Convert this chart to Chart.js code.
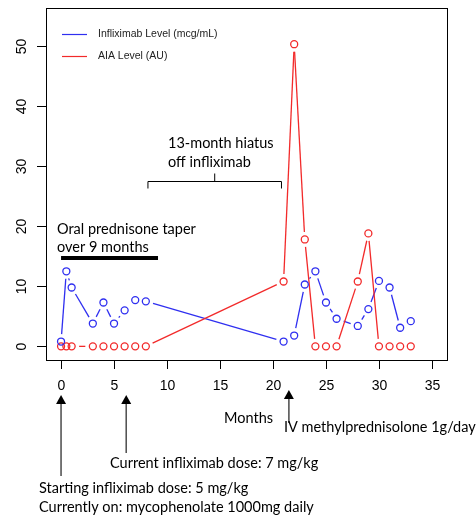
<!DOCTYPE html>
<html>
<head>
<meta charset="utf-8">
<script src="https://cdn.jsdelivr.net/npm/chart.js@4.4.1/dist/chart.umd.min.js"></script>
<style>
  html, body { margin: 0; padding: 0; background: #fff; }
  canvas { display: block; }
</style>
</head>
<body>
<canvas id="levelsChart" width="476" height="515"></canvas>
<script>
// sampling months and measured levels
const months = [0, 0.5, 1, 3, 4, 5, 6, 7, 8, 21, 22, 23, 24, 25, 26, 28, 29, 30, 31, 32, 33];
const infliximabLevel = [0.8, 12.5, 9.8, 3.8, 7.3, 3.8, 6.0, 7.7, 7.5, 0.8, 1.8, 10.3, 12.5, 7.3, 4.6, 3.4, 6.2, 10.9, 9.8, 3.1, 4.2];
const aiaLevel = [0, 0, 0, 0, 0, 0, 0, 0, 0, 10.8, 50.3, 17.8, 0, 0, 0, 10.8, 18.8, 0, 0, 0, 0];

const xTicks = [0, 5, 10, 15, 20, 25, 30, 35];
const yTicks = [0, 10, 20, 30, 40, 50];

const BLUE = '#2f2ff0';
const RED = '#f22a2a';
const NOTE_FONT = 'Lato, "Open Sans", sans-serif';
const AXIS_FONT = '"Liberation Sans", Arial, sans-serif';

function toPoints(ys) {
    return months.map((m, i) => ({x: m, y: ys[i]}));
}

// lines between points with a gap round each circle (like type="b")
const gappedLines = {
    id: 'gappedLines',
    beforeDatasetsDraw(chart) {
        const ctx = chart.ctx;
        const gap = 7.5;
        ctx.save();
        ctx.beginPath();
        ctx.rect(chart.chartArea.left, chart.chartArea.top,
            chart.chartArea.right - chart.chartArea.left, chart.chartArea.bottom - chart.chartArea.top);
        ctx.clip();
        chart.data.datasets.forEach((ds, di) => {
            const pts = chart.getDatasetMeta(di).data;
            ctx.strokeStyle = ds.borderColor;
            ctx.lineWidth = 1.3;
            for (let i = 0; i < pts.length - 1; i++) {
                const a = pts[i], b = pts[i + 1];
                const dx = b.x - a.x, dy = b.y - a.y;
                const len = Math.sqrt(dx * dx + dy * dy);
                if (len <= gap * 2) continue;
                const ux = dx / len, uy = dy / len;
                ctx.beginPath();
                ctx.moveTo(a.x + ux * gap, a.y + uy * gap);
                ctx.lineTo(b.x - ux * gap, b.y - uy * gap);
                ctx.stroke();
            }
        });
        ctx.restore();
    }
};

function arrowUp(ctx, x, tipY, endY) {
    ctx.strokeStyle = '#555';
    ctx.lineWidth = 1.6;
    ctx.beginPath();
    ctx.moveTo(x, tipY + 8);
    ctx.lineTo(x, endY);
    ctx.stroke();
    ctx.fillStyle = '#000';
    ctx.beginPath();
    ctx.moveTo(x, tipY);
    ctx.lineTo(x - 5, tipY + 9);
    ctx.lineTo(x + 5, tipY + 9);
    ctx.closePath();
    ctx.fill();
}

// frame, axes, legend and notes
const decorations = {
    id: 'decorations',
    afterDraw(chart) {
        const ctx = chart.ctx;
        const area = chart.chartArea;
        const xs = chart.scales.x, ys = chart.scales.y;
        ctx.save();

        ctx.strokeStyle = '#000';
        ctx.lineWidth = 1;
        ctx.strokeRect(Math.round(area.left) + 0.5, Math.round(area.top) + 0.5,
            Math.round(area.right - area.left), Math.round(area.bottom - area.top));

        // x axis
        ctx.fillStyle = '#000';
        ctx.font = '14px ' + AXIS_FONT;
        ctx.textAlign = 'center';
        ctx.textBaseline = 'middle';
        xTicks.forEach(t => {
            const px = Math.round(xs.getPixelForValue(t)) + 0.5;
            ctx.beginPath();
            ctx.moveTo(px, area.bottom);
            ctx.lineTo(px, area.bottom + 9);
            ctx.stroke();
            ctx.fillText(String(t), px, area.bottom + 26);
        });

        // y axis, labels turned as in base graphics
        yTicks.forEach(t => {
            const py = Math.round(ys.getPixelForValue(t)) + 0.5;
            ctx.beginPath();
            ctx.moveTo(area.left, py);
            ctx.lineTo(area.left - 9, py);
            ctx.stroke();
            ctx.save();
            ctx.translate(area.left - 24, py);
            ctx.rotate(-Math.PI / 2);
            ctx.fillText(String(t), 0, 0);
            ctx.restore();
        });

        // legend
        ctx.font = '10.5px ' + AXIS_FONT;
        ctx.textAlign = 'left';
        [['Infliximab Level (mcg/mL)', BLUE, 34], ['AIA Level (AU)', RED, 56]].forEach(([label, color, y]) => {
            ctx.strokeStyle = color;
            ctx.lineWidth = 1.2;
            ctx.beginPath();
            ctx.moveTo(62, y + 0.5);
            ctx.lineTo(87, y + 0.5);
            ctx.stroke();
            ctx.fillStyle = '#222';
            ctx.fillText(label, 98, y);
        });

        // hiatus bracket
        const bl = xs.getPixelForValue(8.2), br = xs.getPixelForValue(20.8), bm = xs.getPixelForValue(14.5);
        const by = 181.5;
        ctx.strokeStyle = '#000';
        ctx.lineWidth = 1;
        ctx.beginPath();
        ctx.moveTo(bl, by + 7);
        ctx.lineTo(bl, by);
        ctx.lineTo(br, by);
        ctx.lineTo(br, by + 7);
        ctx.moveTo(bm, by);
        ctx.lineTo(bm, by - 8);
        ctx.stroke();

        ctx.fillStyle = '#000';
        ctx.font = '14.5px ' + NOTE_FONT;
        ctx.fillText('13-month hiatus', 168, 143);
        ctx.fillText('off infliximab', 168, 162);

        // prednisone taper bar
        ctx.fillText('Oral prednisone taper', 57, 229);
        ctx.fillText('over 9 months', 57, 247);
        ctx.fillRect(xs.getPixelForValue(0), 256, xs.getPixelForValue(9.15) - xs.getPixelForValue(0), 4);

        // below the axis
        ctx.fillText('Months', 224, 418);
        arrowUp(ctx, xs.getPixelForValue(0), 395, 476);
        arrowUp(ctx, xs.getPixelForValue(6.15), 395, 453);
        arrowUp(ctx, xs.getPixelForValue(21.5), 390, 423);
        ctx.fillStyle = '#000';
        ctx.fillText('IV methylprednisolone 1g/day', 284, 427);
        ctx.fillText('Current infliximab dose: 7 mg/kg', 110, 463);
        ctx.fillText('Starting infliximab dose: 5 mg/kg', 39, 488);
        ctx.fillText('Currently on: mycophenolate 1000mg daily', 39, 507);

        ctx.restore();
    }
};

const ctx = document.getElementById('levelsChart');
new Chart(ctx, {
    type: 'scatter',
    data: {
        datasets: [{
            label: 'Infliximab Level (mcg/mL)',
            data: toPoints(infliximabLevel),
            borderColor: BLUE,
            pointBorderColor: BLUE,
            pointBackgroundColor: 'rgba(0,0,0,0)',
            pointRadius: 3.5,
            pointBorderWidth: 1.3,
            showLine: false,
        },
        {
            label: 'AIA Level (AU)',
            data: toPoints(aiaLevel),
            borderColor: RED,
            pointBorderColor: RED,
            pointBackgroundColor: 'rgba(0,0,0,0)',
            pointRadius: 3.5,
            pointBorderWidth: 1.3,
            showLine: false,
        }]
    },
    options: {
        responsive: false,
        animation: false,
        devicePixelRatio: 1,
        layout: {
            padding: {left: 46, top: 8, right: 29, bottom: 155},
        },
        plugins: {
            legend: {display: false},
            tooltip: {enabled: false},
        },
        scales: {
            x: {type: 'linear', min: -1.42, max: 36.42, display: false},
            y: {type: 'linear', min: -2.27, max: 56.33, display: false},
        }
    },
    plugins: [gappedLines, decorations],
});
</script>
</body>
</html>
